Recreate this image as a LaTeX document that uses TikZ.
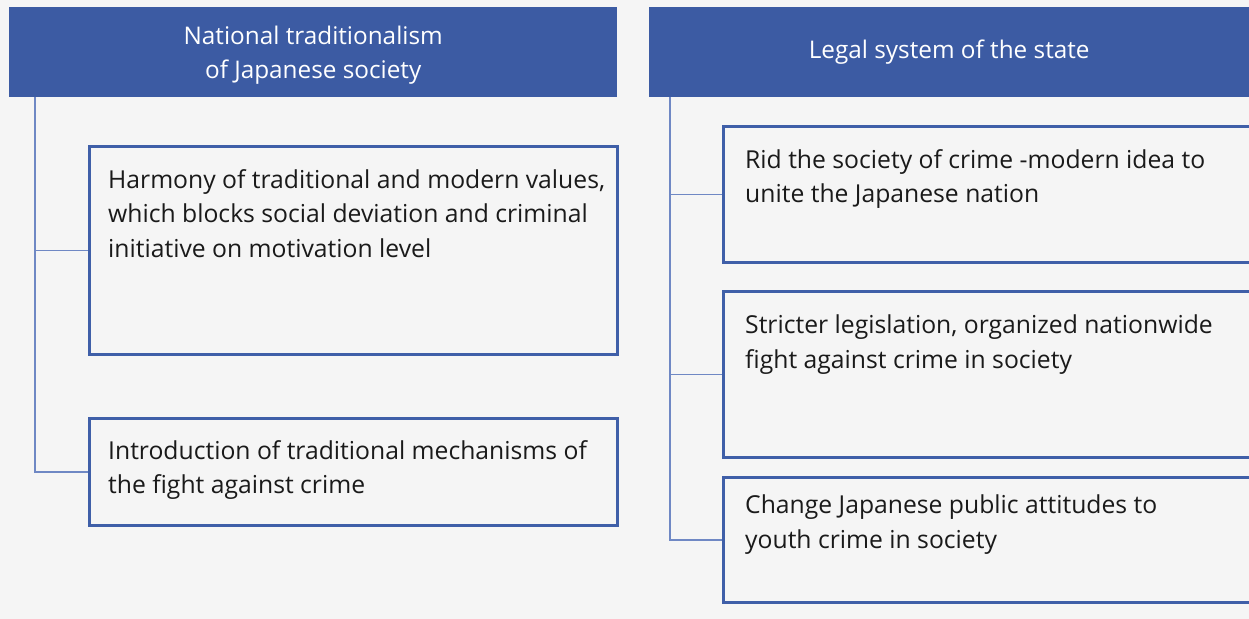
\documentclass[tikz,border=0pt]{standalone}
\usepackage{fontspec}
\setmainfont{Open Sans}
\definecolor{hdr}{HTML}{3C5BA3}
\definecolor{bordc}{HTML}{3F5FA8}
\definecolor{connc}{HTML}{6F88C4}
\definecolor{bg}{HTML}{F5F5F5}
\definecolor{txt}{HTML}{1A1A1A}
\tikzset{
  header/.style={fill=hdr, draw=none, anchor=north west, inner sep=0pt},
  hdrtext/.style={text=white, font=\fontsize{24.4}{34}\selectfont, align=center},
  box/.style={draw=bordc, line width=2.6bp, fill=bg, anchor=north west, inner sep=0pt},
  boxtext/.style={text=txt, font=\fontsize{24.8}{35}\selectfont, anchor=north west, align=left, inner sep=0pt},
  conn/.style={draw=connc, line width=1.4bp}
}
\begin{document}
\begin{tikzpicture}[x=1bp,y=-1bp]
\fill[bg] (0,0) rectangle (1249,619);
\useasboundingbox (0,0) rectangle (1249,619);
% headers
\node[header, minimum width=608bp, minimum height=90bp] (h1) at (9,7) {};
\node[hdrtext] (h1t) at ([yshift=-3bp]h1.center) {National traditionalism\\of Japanese society};
\node[header, minimum width=600bp, minimum height=90bp] (h2) at (649,7) {};
\node[hdrtext] (h2t) at (h2.center) {Legal system of the state};
% trunk coordinates
\coordinate (t1) at (35,97);
\coordinate (t2) at (670,97);
% left boxes
\node[box, minimum width=528bp, minimum height=208bp] (b1) at (88,145) {};
\node[boxtext] (b1t) at (108,169) {Harmony of traditional and modern values,\\which blocks social deviation and criminal\\initiative on motivation level};
\node[box, minimum width=528bp, minimum height=107bp] (b2) at (88,417) {};
\node[boxtext] (b2t) at (108,440) {Introduction of traditional mechanisms of\\the fight against crime};
% right boxes
\node[box, minimum width=530bp, minimum height=136bp] (b3) at (722,125) {};
\node[boxtext] (b3t) at (745,149) {Rid the society of crime -modern idea to\\unite the Japanese nation};
\node[box, minimum width=530bp, minimum height=166bp] (b4) at (722,290) {};
\node[boxtext] (b4t) at (745,315) {Stricter legislation, organized nationwide\\fight against crime in society};
\node[box, minimum width=530bp, minimum height=125bp] (b5) at (722,476) {};
\node[boxtext] (b5t) at (745,495) {Change Japanese public attitudes to\\youth crime in society};
% connectors
\draw[conn] (t1) |- (b2.west);
\draw[conn] (b1.west -| t1) -- (b1.west);
\draw[conn] (t2) |- (b5.west);
\draw[conn] (b3.west -| t2) -- (b3.west);
\draw[conn] (b4.west -| t2) -- (b4.west);
\end{tikzpicture}
\end{document}
